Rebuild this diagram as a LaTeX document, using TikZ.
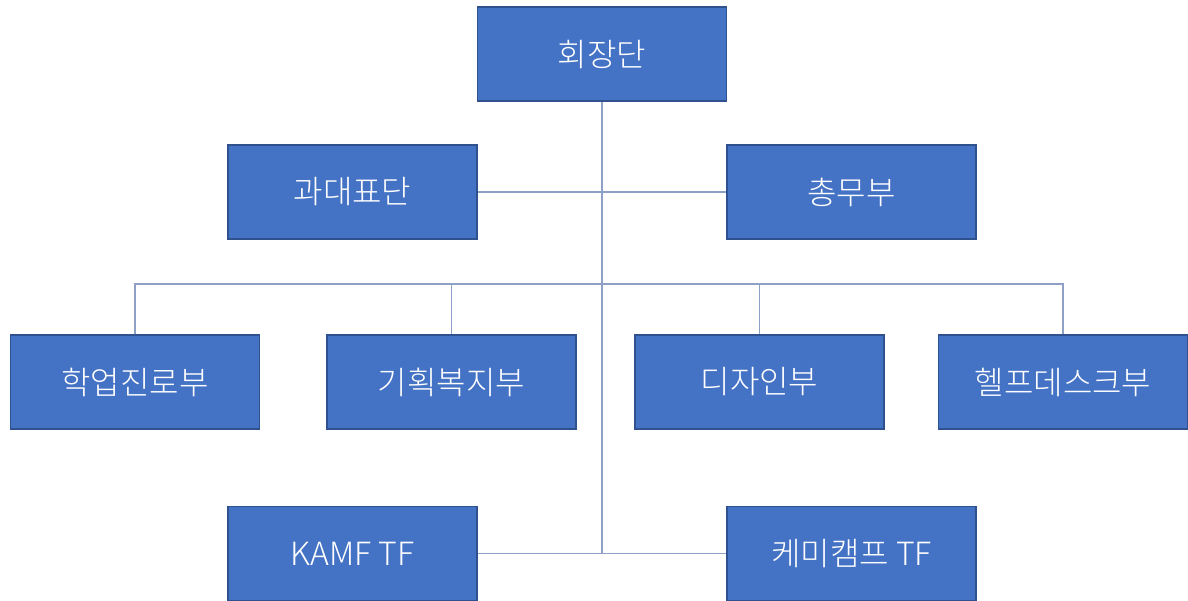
\documentclass[tikz,border=0pt]{standalone}
\usepackage{fontspec}
\setmainfont{Noto Sans CJK KR Light}
\usepackage{tikz}
\usetikzlibrary{positioning, calc}
\definecolor{boxfill}{HTML}{4472C4}
\definecolor{boxborder}{HTML}{2F528F}
\definecolor{linkgray}{HTML}{8EA0C6}

\begin{document}
\begin{tikzpicture}[x=1pt, y=-1pt,
    unit/.style={draw=boxborder, fill=boxfill, line width=1.3pt,
      minimum width=249pt, minimum height=94pt, inner sep=0pt,
      align=center, font=\fontsize{32}{38}\selectfont, text=white},
    link/.style={draw=linkgray, line width=1.4pt},
]
\useasboundingbox (0,0) rectangle (1188,601);
\node[unit] (hoejang)  at (602, 54)    {회장단};
\node[unit] (gwadae)   at (352.5, 192) {과대표단};
\node[unit] (chongmu)  at (851.5, 192) {총무부};
\node[unit] (hagup)    at (135, 382)   {학업진로부};
\node[unit] (gihoek)   at (451.5, 382) {기획복지부};
\node[unit] (design)   at (759.5, 382) {디자인부};
\node[unit] (helpdesk) at (1063, 382)  {헬프데스크부};
\node[unit] (kamf)     at (352.5, 553.5) {KAMF TF};
\node[unit] (chemi)    at (851.5, 553.5) {케미캠프 TF};
\coordinate (bus) at (602, 284);
% trunk and branches
\draw[link] (hoejang.south) -- (hoejang.south |- kamf.east);
\draw[link] (gwadae.east) -- (chongmu.west);
\draw[link] (kamf.east) -- (chemi.west);
\draw[link] (hagup.north) |- (bus) -| (helpdesk.north);
\draw[link] (gihoek.north) -- (gihoek.north |- bus);
\draw[link] (design.north) -- (design.north |- bus);
\end{tikzpicture}
\end{document}
